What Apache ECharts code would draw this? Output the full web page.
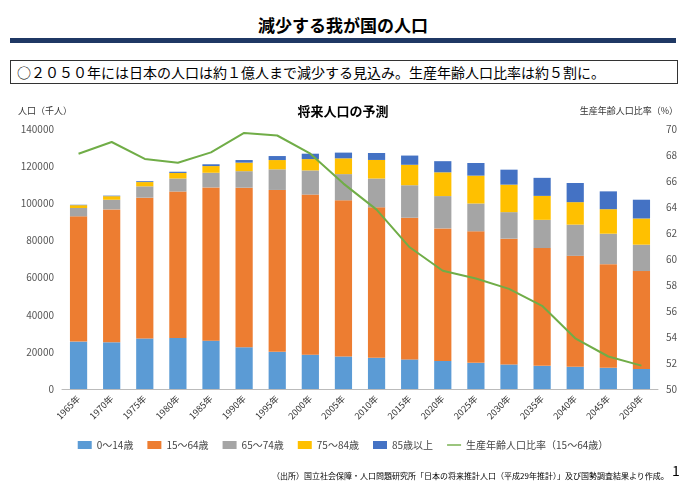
<!DOCTYPE html>
<html><head><meta charset="utf-8">
<script src="https://cdn.jsdelivr.net/npm/echarts@6/dist/echarts.min.js"></script>
<style>
body{margin:0;width:686px;height:481px;background:#fff;font-family:"Noto Sans CJK JP",sans-serif;position:relative;overflow:hidden}
#ttl{position:absolute;top:12px;left:0;width:686px;text-align:center;font-size:17px;font-weight:bold}
#bar{position:absolute;top:38px;left:10px;width:666px;height:5px;background:#1f3864}
#box{position:absolute;top:60px;left:10px;width:660px;height:22px;border:1px solid #333;font-size:14px;line-height:22px;padding-left:6px}
#main{position:absolute;top:0;left:0;width:686px;height:481px}
#note{position:absolute;top:470px;left:272px;font-size:8px;white-space:nowrap}
#pg{position:absolute;top:460px;left:672px;font-size:14px}
</style></head><body>
<div id="ttl">減少する我が国の人口</div>
<div id="bar"></div>
<div id="box">○２０５０年には日本の人口は約１億人まで減少する見込み。生産年齢人口比率は約５割に。</div>
<div id="main"></div>
<div id="note">（出所）国立社会保障・人口問題研究所「日本の将来推計人口（平成29年推計）」及び国勢調査結果より作成。</div>
<div id="pg">1</div>
<script>
var years=["1965年","1970年","1975年","1980年","1985年","1990年","1995年","2000年","2005年","2010年","2015年","2020年","2025年","2030年","2035年","2040年","2045年","2050年"];
var age0_14=[25529,25153,27221,27507,26033,22486,20014,18472,17521,16803,15945,15075,14073,13212,12457,11936,11384,10767];
var age15_64=[67444,71566,75807,78835,82506,85904,87165,86220,84092,81032,76289,71406,70845,67730,63430,59777,55845,52750];
var age65_74=[4500,5200,6100,7000,7900,8900,11100,13000,14100,15500,17500,17400,14970,14300,15200,16800,16400,14200];
var age75_84=[1500,1900,2300,3000,3600,4600,5000,6100,8500,10000,11000,12800,15000,14800,12900,12100,13200,14100];
var age85=[236,293,465,647,968,1395,2161,2905,3072,3746,4965,5992,6801,8060,9717,10306,9592,10106];
var ratio=[68.1,69.0,67.7,67.4,68.2,69.7,69.5,68.1,65.8,63.8,60.9,59.1,58.5,57.7,56.4,53.9,52.5,51.8];
var names=["0～14歳","15～64歳","65～74歳","75～84歳","85歳以上"];
var cols=["#5b9bd5","#ed7d31","#a5a5a5","#ffc000","#4472c4"];
var data=[age0_14,age15_64,age65_74,age75_84,age85];
var series=data.map(function(d,i){return {name:names[i],type:"bar",stack:"p",data:d,barWidth:"52%",itemStyle:{color:cols[i]}};});
series.push({name:"生産年齢人口比率（15～64歳）",type:"line",yAxisIndex:1,data:ratio,symbol:"none",lineStyle:{color:"#70ad47",width:2},itemStyle:{color:"#70ad47"}});
var chart=echarts.init(document.getElementById("main"));
chart.setOption({
  textStyle:{fontFamily:"Noto Sans CJK JP"},
  title:{text:"将来人口の予測",left:"center",top:100,textStyle:{fontSize:13,fontWeight:"bold",color:"#000"}},
  legend:{bottom:26,itemWidth:14,itemHeight:8,itemGap:14,textStyle:{fontSize:10,color:"#444"},
    data:names.map(function(n){return {name:n,icon:"rect"};}).concat([{name:"生産年齢人口比率（15～64歳）",icon:"path://M0,4 L20,4 L20,6 L0,6 Z"}])},
  grid:{left:62,right:28,top:129,bottom:92},
  xAxis:{type:"category",data:years,axisTick:{show:false},axisLine:{lineStyle:{color:"#bbb"}},axisLabel:{rotate:45,fontSize:9,color:"#333",interval:0}},
  yAxis:[
    {type:"value",min:0,max:140000,interval:20000,name:"人口（千人）",nameLocation:"end",nameGap:14,nameTextStyle:{fontSize:9,color:"#333",align:"right",padding:[0,-10,0,0]},axisLabel:{fontSize:10,color:"#555",formatter:function(v){return String(v);}},splitLine:{show:false}},
    {type:"value",min:50,max:70,interval:2,name:"生産年齢人口比率（%）",nameGap:14,nameTextStyle:{fontSize:9,color:"#333",align:"right",padding:[0,-20,0,0]},axisLabel:{fontSize:10,color:"#555"},splitLine:{show:false}}
  ],
  series:series
});
</script></body></html>
